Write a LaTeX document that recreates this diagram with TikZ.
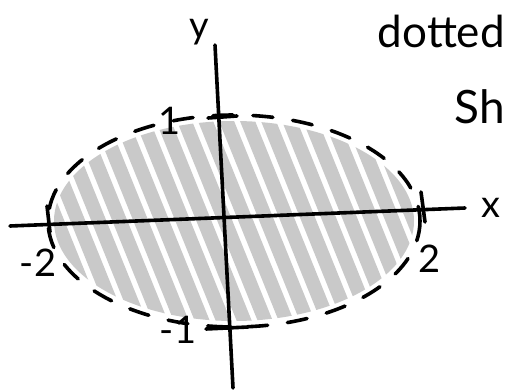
\documentclass[tikz,border=0pt]{standalone}
\usepackage{fontspec}
\setmainfont{Lato}
\begin{document}
\begin{tikzpicture}[x=1pt,y=-1pt,
  axisline/.style={line width=3.6pt,line cap=round,black},
  tickline/.style={line width=3.6pt,line cap=round,black},
  hatchline/.style={line width=14pt,line cap=round,gray!50,opacity=0.85},
  bound/.style={line width=3.6pt,line cap=round,dash pattern=on 20pt off 20pt,black},
  lbl/.style={inner sep=0pt,font=\fontsize{38}{40}\selectfont}]
\useasboundingbox (0,0) rectangle (507,391);
% shading
\begin{scope}
  \clip (234,221) ellipse [x radius=180, y radius=100];
  \foreach \i in {-14,...,24}
    \draw[hatchline] (\i*21,340) -- ++(68:-260);
\end{scope}
% dashed boundary
\draw[bound] (234,221) ellipse [x radius=186, y radius=106];
% axes
\coordinate (xl) at (10,226);
\coordinate (xr) at (465,208);
\coordinate (yt) at (215,45);
\coordinate (yb) at (233,388);
\draw[axisline] (xl) -- (xr);
\draw[axisline] (yb) -- (yt);
% ticks
\coordinate (tm2a) at (47,206); \coordinate (tm2b) at (50,232);
\coordinate (t2a) at (421,192); \coordinate (t2b) at (425,222);
\coordinate (t1a) at (208,118); \coordinate (t1b) at (237,116);
\coordinate (tm1a) at (206,329); \coordinate (tm1b) at (248,327);
\draw[tickline] (tm2a) -- (tm2b);
\draw[tickline] (t2a) -- (t2b);
\draw[tickline] (t1a) -- (t1b);
\draw[tickline] (tm1a) -- (tm1b);
% labels
\node[lbl] (ylab) at (199,32) {y};
\node[lbl] (xlab) at (491,208) {x};
\node[lbl] (one) at (170,121) {1};
\node[lbl] (mone) at (178,330) {-1};
\node[lbl] (mtwo) at (38,263) {-2};
\node[lbl] (two) at (430,259) {2};
\node[inner sep=0pt,anchor=base east,font=\fontsize{44}{46}\selectfont] (dotted) at (505,47) {dotted};
\node[inner sep=0pt,anchor=base east,font=\fontsize{46}{48}\selectfont] (shtext) at (505,123) {Sh};
\end{tikzpicture}
\end{document}
